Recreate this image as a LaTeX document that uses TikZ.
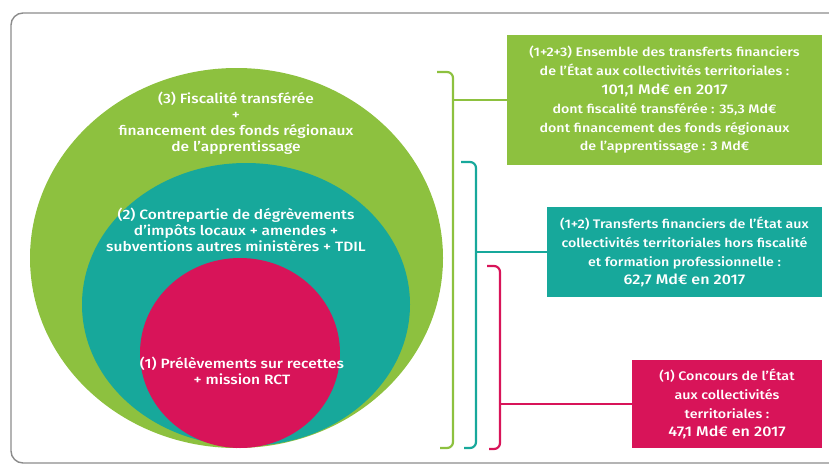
\documentclass[tikz,border=0pt]{standalone}
\usepackage{fontspec}
\setmainfont{Fira Sans Medium}[FakeStretch=1.15]
\newfontfamily\boxfont{Fira Sans Medium}[FakeStretch=1.15]
\usetikzlibrary{shapes.geometric}
\definecolor{cgreen}{HTML}{8DC13F}
\definecolor{cteal}{HTML}{17A89B}
\definecolor{cpink}{HTML}{D81459}
\definecolor{cframe}{HTML}{8C8C8C}
\begin{document}
\begin{tikzpicture}[x=1pt,y=-1pt,
  disc/.style={ellipse, inner sep=0pt, draw=none},
  disctext/.style={text=white, align=center, inner sep=0pt, font=\fontsize{13.5}{16}\selectfont},
  boxstyle/.style={inner sep=0pt, text=white, align=center, font=\boxfont\fontsize{12.4}{18.8}\selectfont},
  bracketline/.style={line width=2.2pt, rounded corners=6pt},
  linkline/.style={line width=2.2pt}]
\useasboundingbox (0,0) rectangle (829,466);
\draw[cframe, line width=1.4pt, rounded corners=12pt] (11,13) rectangle (860,463);

% nested discs
\node[disc, fill=cgreen, minimum width=413pt, minimum height=380pt] (outer) at (236.5,258) {};
\node[disc, fill=cteal, minimum width=328pt, minimum height=283pt] (middle) at (246,304.5) {};
\node[disc, fill=cpink, minimum width=200pt, minimum height=190pt] (inner) at (240,353) {};

\node[disctext] (t3) at (236,123) {(3) Fiscalité transférée\\+\\financement des fonds régionaux\\de l’apprentissage};
\node[disctext] (t2) at (236,229.5) {(2) Contrepartie de dégrèvements\\d’impôts locaux + amendes +\\subventions autres ministères + TDIL};
\node[disctext] (t1) at (242,371) {(1) Prélèvements sur recettes\\+ mission RCT};

% boxes
\node[boxstyle, fill=cgreen, minimum width=315pt, minimum height=130pt] (boxA) at (664.5,100)
  {(1+2+3) Ensemble des transferts financiers\\de l’État aux collectivités territoriales :\\{\fontsize{14}{18.8}\selectfont 101,1 Md€ en 2017}\\dont fiscalité transférée : 35,3 Md€\\dont financement des fonds régionaux\\de l’apprentissage : 3 Md€};
\node[boxstyle, fill=cteal, minimum width=275pt, minimum height=90pt] (boxB) at (684.5,252)
  {(1+2) Transferts financiers de l’État aux\\collectivités territoriales hors fiscalité\\et formation professionnelle :\\{\fontsize{14}{18.8}\selectfont 62,7 Md€ en 2017}};
\node[boxstyle, fill=cpink, minimum width=190pt, minimum height=88pt] (boxC) at (727,404)
  {(1) Concours de l’État\\aux collectivités\\territoriales :\\{\fontsize{14}{18.8}\selectfont 47,1 Md€ en 2017}};

% brackets
\coordinate (gx) at (453,0);
\coordinate (tx) at (476,0);
\coordinate (px) at (500,0);
\draw[bracketline, cgreen] (437,72) -- (453,72) -- (453,448) -- (440,448);
\draw[bracketline, cteal] (461,162) -- (476,162) -- (476,448) -- (464,448);
\draw[bracketline, cpink] (487,266) -- (500,266) -- (500,449) -- (489,449);
\draw[linkline, cgreen] (boxA.west) -- (boxA.west -| gx);
\draw[linkline, cteal] (boxB.west) -- (boxB.west -| tx);
\draw[linkline, cpink] (boxC.west) -- (boxC.west -| px);
\end{tikzpicture}
\end{document}
